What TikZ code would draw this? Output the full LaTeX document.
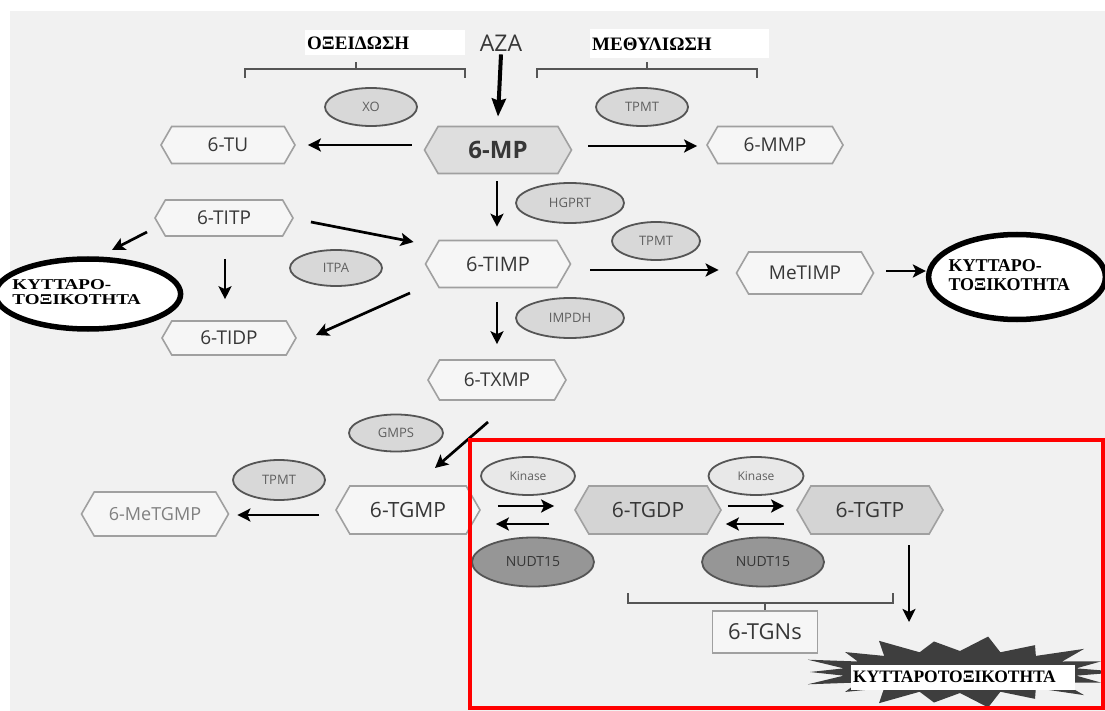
\documentclass[tikz,border=0pt]{standalone}
\usepackage{fontspec}
\setmainfont{Liberation Serif}
\newfontfamily\osans{Open Sans}
\usetikzlibrary{shapes.symbols,shapes.geometric,arrows.meta,calc}
\definecolor{bgc}{RGB}{241,241,241}
\definecolor{hexfill}{RGB}{246,246,246}
\definecolor{hexline}{RGB}{160,160,160}
\definecolor{hexdark}{RGB}{212,212,212}
\definecolor{hexmid}{RGB}{222,222,222}
\definecolor{enzfill}{RGB}{216,216,216}
\definecolor{enzline}{RGB}{85,85,85}
\definecolor{kinfill}{RGB}{232,232,232}
\definecolor{nudfill}{RGB}{150,150,150}
\definecolor{txt}{RGB}{55,55,55}
\definecolor{enztxt}{RGB}{95,95,95}
\definecolor{starfill}{RGB}{62,62,62}
\begin{document}
\begin{tikzpicture}[x=1pt,y=-1pt,
  hexb/.style={signal, signal to=east and west, signal pointer angle=120, draw=hexline, fill=hexfill, line width=1.6pt, inner sep=0pt, text=txt, font=\osans\fontsize{19}{22}\selectfont},
  enz/.style={ellipse, draw=enzline, fill=enzfill, line width=1.8pt, inner sep=0pt, text=enztxt, font=\osans\fontsize{13}{15}\selectfont},
  tox/.style={ellipse, draw=black, fill=white, line width=5.5pt, inner sep=0pt, align=left, font=\bfseries},
  arr/.style={line width=2.7pt, -{Stealth[length=13pt,width=13pt,inset=3pt]}},
  bigarr/.style={line width=4pt, -{Stealth[length=18pt,width=14pt,inset=2pt]}},
  brk/.style={draw=enzline, line width=1.6pt},
  head/.style={fill=white, inner xsep=2pt, inner ysep=0pt, anchor=west, align=left, font=\bfseries\fontsize{19}{21}\selectfont}
]
\useasboundingbox (0,0) rectangle (1105,711);
\fill[bgc] (10,11) rectangle (1105,711);

% headers
\node[head, text width=156pt, minimum height=25pt] (oxi) at (305,43) {ΟΞΕΙΔΩΣΗ};
\node[head, text width=175pt, minimum height=29pt] (meth) at (590,44) {ΜΕΘΥΛΙΩΣΗ};
\node[font=\osans\fontsize{23}{26}\selectfont, text=txt, inner sep=1pt] (aza) at (501,43) {AZA};
\draw[brk] (245,78) -- (245,69) -- (465,69) -- (465,78);
\draw[brk] (356,69) -- (356,62);
\draw[brk] (537,78) -- (537,69) -- (757,69) -- (757,78);
\draw[brk] (647,69) -- (647,62);

% metabolites
\node[hexb, minimum width=134pt, minimum height=37pt] (tu) at (228,145) {6-TU};
\node[hexb, fill=hexmid, minimum width=147pt, minimum height=47pt, font=\osans\bfseries\fontsize{24}{28}\selectfont] (mp) at (498,150) {6-MP};
\node[hexb, minimum width=136pt, minimum height=37pt] (mmp) at (775,145) {6-MMP};
\node[hexb, minimum width=138pt, minimum height=36pt] (titp) at (224,218) {6-TITP};
\node[hexb, minimum width=145pt, minimum height=47pt, font=\osans\fontsize{20}{24}\selectfont] (timp) at (498,264) {6-TIMP};
\node[hexb, minimum width=137pt, minimum height=42pt] (metimp) at (805,273) {MeTIMP};
\node[hexb, minimum width=134pt, minimum height=34pt] (tidp) at (229,338) {6-TIDP};
\node[hexb, minimum width=138pt, minimum height=40pt] (txmp) at (497,380) {6-TXMP};
\node[hexb, minimum width=147pt, minimum height=44pt, text=gray, font=\osans\fontsize{18}{22}\selectfont] (metgmp) at (155,514) {6-MeTGMP};
\node[hexb, minimum width=144pt, minimum height=48pt, font=\osans\fontsize{21}{25}\selectfont] (tgmp) at (408,510) {6-TGMP};
\node[hexb, fill=hexdark, minimum width=146pt, minimum height=48pt, font=\osans\fontsize{21}{25}\selectfont] (tgdp) at (648,510) {6-TGDP};
\node[hexb, fill=hexdark, minimum width=146pt, minimum height=48pt, font=\osans\fontsize{21}{25}\selectfont] (tgtp) at (870,510) {6-TGTP};
\node[draw=hexline, fill=hexfill, line width=1.6pt, minimum width=105pt, minimum height=42pt, font=\osans\fontsize{22}{26}\selectfont, text=txt] (tgns) at (765,632) {6-TGNs};

% enzymes
\node[enz, minimum width=92pt, minimum height=38pt] (xo) at (371,107) {XO};
\node[enz, minimum width=92pt, minimum height=38pt] (tpmta) at (642,107) {TPMT};
\node[enz, minimum width=108pt, minimum height=40pt] (hgprt) at (570,203) {HGPRT};
\node[enz, minimum width=88pt, minimum height=38pt] (tpmtb) at (656,241) {TPMT};
\node[enz, minimum width=92pt, minimum height=36pt] (itpa) at (336,268) {ITPA};
\node[enz, minimum width=108pt, minimum height=40pt] (impdh) at (570,318) {IMPDH};
\node[enz, minimum width=94pt, minimum height=37pt] (gmps) at (396,433) {GMPS};
\node[enz, minimum width=92pt, minimum height=40pt] (tpmtc) at (279,480) {TPMT};
\node[enz, fill=kinfill, minimum width=94pt, minimum height=38pt, font=\osans\fontsize{12}{14}\selectfont] (kina) at (528,476) {Kinase};
\node[enz, fill=kinfill, minimum width=95pt, minimum height=38pt, font=\osans\fontsize{12}{14}\selectfont] (kinb) at (756,476) {Kinase};
\node[enz, fill=nudfill, text=txt, minimum width=122pt, minimum height=49pt, font=\osans\fontsize{14}{16}\selectfont] (nuda) at (533,562) {NUDT15};
\node[enz, fill=nudfill, text=txt, minimum width=122pt, minimum height=49pt, font=\osans\fontsize{14}{16}\selectfont] (nudb) at (763,562) {NUDT15};

% cytotoxicity ellipses
\node[tox, minimum width=151pt, minimum height=70pt] (toxa) at (88,294)
  {\makebox[131pt][l]{\hspace*{-10pt}\scalebox{1.27}[1]{\fontsize{15}{15}\selectfont\begin{tabular}{@{}l@{}}ΚΥΤΤΑΡΟ-\\ΤΟΞΙΚΟΤΗΤΑ\end{tabular}}}};
\node[tox, minimum width=150pt, minimum height=85pt] (toxb) at (1017,277)
  {\makebox[125pt][l]{\hspace*{-6pt}\fontsize{18}{19}\selectfont\begin{tabular}{@{}l@{}}ΚΥΤΤΑΡΟ-\\ΤΟΞΙΚΟΤΗΤΑ\end{tabular}}};

% bracket over 6-TGNs
\draw[brk] (628,593) -- (628,603) -- (893,603) -- (893,593);
\draw[brk] (tgns.north) -- ++(0,-8);

% star
\fill[starfill] (1122,672) \foreach \i in {1,...,35} {-- ({960+ifthenelse(mod(\i,2)==0,ifthenelse(mod(\i,4)==0,162,150),118)*cos(\i*10)}, {672+ifthenelse(mod(\i,2)==0,ifthenelse(mod(\i,4)==0,36,31),21)*sin(\i*10)})} -- cycle;
\node[fill=white, inner xsep=2pt, inner ysep=0pt, text width=220pt, minimum height=25pt, align=left, font=\bfseries\fontsize{17.5}{19}\selectfont] (toxc) at (963,677) {ΚΥΤΤΑΡΟΤΟΞΙΚΟΤΗΤΑ};
\coordinate (startip) at (909,622);

% connectors
\draw[bigarr] ([yshift=-2pt]aza.south) -- ([yshift=9pt]mp.north);
\draw[arr] ($(mp.west)+(-12,-5)$) -- ($(tu.east)+(12,0)$);
\draw[arr] ($(mp.east)+(16,-4)$) -- ($(mmp.west)+(-9,1)$);
\draw[arr] ($(mp.south)+(-1,7)$) -- ($(timp.north)+(-1,-13)$);
\draw[arr] ($(titp.east)+(17,4)$) -- ($(timp.west)+(-11,-22)$);
\draw[arr] ($(titp.center)+(-77,14)$) -- ($(toxa.center)+(24,-44)$);
\draw[arr] ($(titp.south)+(1,22)$) -- ($(tidp.north)+(-4,-21)$);
\draw[arr] ($(timp.center)+(-88,29)$) -- ($(tidp.east)+(19,-3)$);
\draw[arr] ($(timp.east)+(19,6)$) -- ($(metimp.west)+(-17,-3)$);
\draw[arr] ($(timp.south)+(-1,14)$) -- ($(txmp.north)+(0,-15)$);
\draw[arr] ($(metimp.east)+(12,-2)$) -- ($(toxb.west)+(0,-6)$);
\draw[arr] ($(txmp.center)+(-9,42)$) -- ($(tgmp.center)+(27,-42)$);
\draw[arr] ($(tgmp.west)+(-16,5)$) -- ($(metgmp.east)+(8,1)$);
\draw[arr] ($(tgmp.east)+(17,-4)$) -- ($(tgdp.west)+(-20,-4)$);
\draw[arr] ($(tgdp.west)+(-25,14)$) -- ($(tgmp.east)+(15,14)$);
\draw[arr] ($(tgdp.east)+(6,-4)$) -- ($(tgtp.west)+(-12,-4)$);
\draw[arr] ($(tgtp.west)+(-12,14)$) -- ($(tgdp.east)+(4,14)$);
\draw[arr] ($(tgtp.center)+(39,35)$) -- (startip);

% red frame
\draw[red, line width=3.5pt] (470,440) rectangle (1103,708);
\end{tikzpicture}
\end{document}
